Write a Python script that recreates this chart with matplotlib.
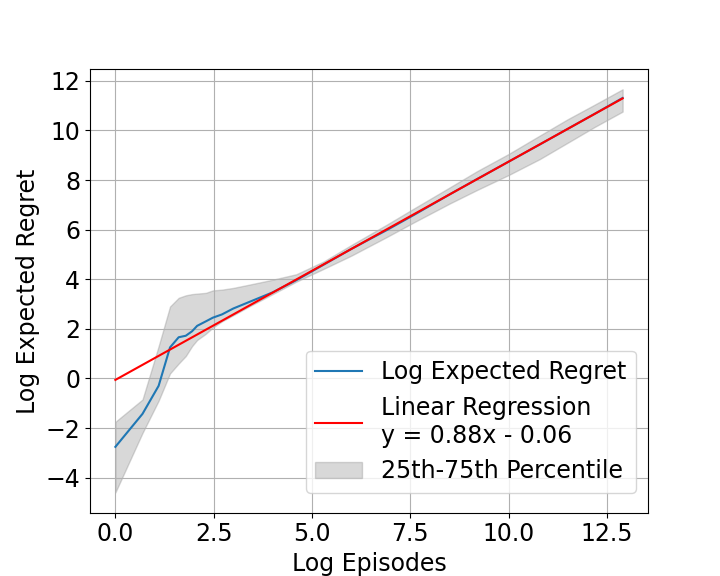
import matplotlib
matplotlib.use("Agg")
import matplotlib.pyplot as plt
from matplotlib.ticker import MultipleLocator
import numpy as np

log_episodes = [0.0, 0.69, 1.10, 1.39, 1.61, 1.79, 1.95, 2.08, 2.30, 2.48, 2.71, 3.0, 3.4,
                4.0, 4.6, 5.3, 6.0, 6.9, 7.6, 8.5, 9.2, 10.0, 10.8, 11.5, 12.2, 12.9]
log_regret = [-2.76, -1.43, -0.30, 1.25, 1.66, 1.72, 1.90, 2.12, 2.30, 2.45, 2.58, 2.82, 3.08,
              3.47, 3.96, 4.59, 5.22, 5.98, 6.60, 7.42, 8.04, 8.74, 9.44, 10.06, 10.68, 11.31]
p75 = [-1.75, -0.85, 1.3, 2.9, 3.25, 3.35, 3.40, 3.42, 3.45, 3.55, 3.58, 3.65, 3.78,
       3.98, 4.2, 4.72, 5.38, 6.2, 6.86, 7.7, 8.36, 9.05, 9.8, 10.45, 11.05, 11.66]
p25 = [-4.6, -2.2, -0.9, 0.2, 0.6, 0.9, 1.3, 1.55, 1.8, 2.05, 2.3, 2.55, 2.9,
       3.4, 3.9, 4.42, 4.95, 5.7, 6.3, 7.05, 7.6, 8.2, 8.85, 9.5, 10.15, 10.76]
slope, intercept = 0.88, -0.06

plt.rcParams['font.size'] = 17
fig, ax = plt.subplots(figsize=(7.2, 5.76), dpi=100)

x = np.array(log_episodes)
ax.plot(x, log_regret, label="Log Expected Regret")
ax.plot(x, slope * x + intercept, color="red",
        label="Linear Regression\ny = %.2fx - %.2f" % (slope, abs(intercept)))
ax.fill_between(x, p25, p75, color="gray", alpha=0.3, label="25th-75th Percentile")

ax.yaxis.set_major_locator(MultipleLocator(2))
ax.set_xlabel("Log Episodes")
ax.set_ylabel("Log Expected Regret")
ax.legend(loc="lower right", bbox_to_anchor=(1.0, 0.018))
ax.grid()
fig.savefig("out.png")
